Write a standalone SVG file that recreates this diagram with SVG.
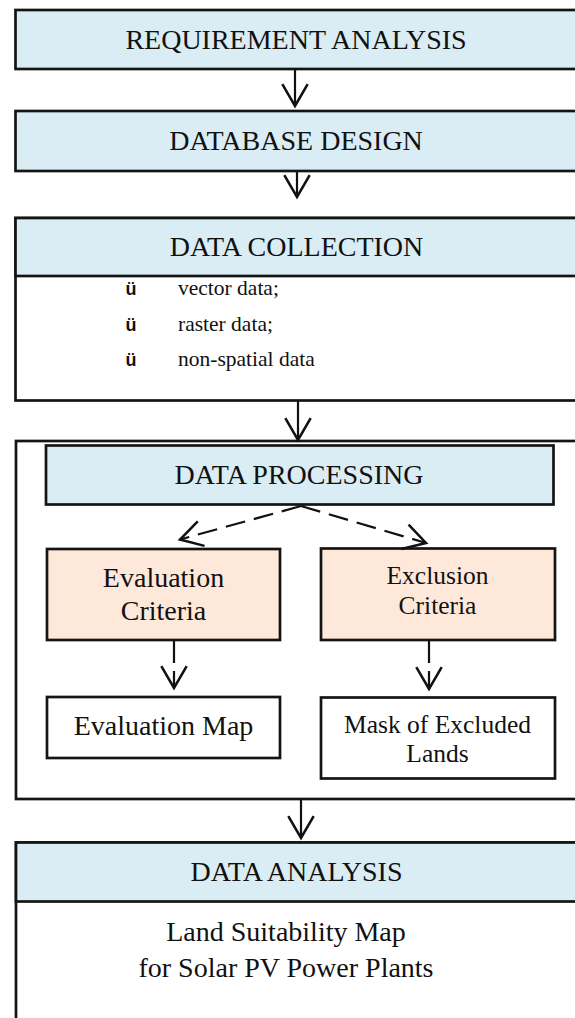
<svg xmlns="http://www.w3.org/2000/svg" width="575" height="1018" viewBox="0 0 575 1018">
<style>
.box{stroke:#141414;stroke-width:2.7}
.blue{fill:#DAEDF4}
.peach{fill:#FDE8DA}
.white{fill:#FFFFFF}
.t{font-family:"Liberation Serif","Times New Roman",serif;fill:#111;text-anchor:middle}
.t28{font-size:28px}
.t25{font-size:25.5px}
.li{font-family:"Liberation Serif","Times New Roman",serif;font-size:21.5px;fill:#111}
.bul{font-family:"Liberation Sans",Arial,sans-serif;font-weight:bold;font-size:18px;fill:#111}
.conn{stroke:#111;stroke-width:2.2;fill:none}
.dash{stroke-dasharray:20 9}
.vdash{stroke-dasharray:22 8}
</style>
<defs>
<marker id="v" markerUnits="userSpaceOnUse" markerWidth="30" markerHeight="30" viewBox="-22 -13 26 26" refX="0" refY="0" orient="auto">
<path d="M-19,-11 L0,0 L-19,11" fill="none" stroke="#111" stroke-width="2.2"/>
</marker>
</defs>
<rect width="575" height="1018" fill="#FFFFFF"/>

<g id="requirement-analysis">
<rect class="box blue" x="15.5" y="10" width="600" height="59"/>
<text class="t t28" x="296" y="48.5">REQUIREMENT ANALYSIS</text>
</g>

<g id="database-design">
<rect class="box blue" x="15.5" y="111" width="600" height="60"/>
<text class="t t28" x="296" y="150">DATABASE DESIGN</text>
</g>

<g id="data-collection">
<rect class="box white" x="15.5" y="218" width="600" height="182.5"/>
<rect class="box blue" x="15.5" y="218" width="600" height="58"/>
<text class="t t28" x="296.5" y="256">DATA COLLECTION</text>
<text class="bul" x="125.5" y="295">ü</text>
<text class="li" x="178" y="295">vector data;</text>
<text class="bul" x="125.5" y="330.5">ü</text>
<text class="li" x="178" y="330.5">raster data;</text>
<text class="bul" x="125.5" y="366">ü</text>
<text class="li" x="178" y="366">non-spatial data</text>
</g>

<g id="processing-frame">
<rect class="box" fill="none" x="16" y="441" width="600" height="358"/>
</g>

<g id="data-processing">
<rect class="box blue" x="46" y="445.5" width="507.5" height="59"/>
<text class="t t28" x="299" y="484">DATA PROCESSING</text>
</g>

<g id="evaluation-criteria">
<rect class="box peach" x="47" y="549" width="233" height="91"/>
<text class="t t28" x="163.5" y="586.5">Evaluation</text>
<text class="t t28" x="163.5" y="620">Criteria</text>
</g>

<g id="exclusion-criteria">
<rect class="box peach" x="321" y="548.5" width="234" height="91.5"/>
<text class="t t25" x="437.5" y="584">Exclusion</text>
<text class="t t25" x="437.5" y="614">Criteria</text>
</g>

<g id="evaluation-map">
<rect class="box white" x="47" y="697" width="233" height="61"/>
<text class="t t28" x="163.5" y="735">Evaluation Map</text>
</g>

<g id="mask-excluded">
<rect class="box white" x="321" y="697.5" width="234" height="81"/>
<text class="t t25" x="437.5" y="732.5">Mask of Excluded</text>
<text class="t t25" x="437.5" y="761.5">Lands</text>
</g>

<g id="data-analysis">
<rect class="box white" x="16" y="842.5" width="600" height="200"/>
<rect class="box blue" x="16" y="842.5" width="600" height="59"/>
<text class="t t28" x="296.5" y="880.5">DATA ANALYSIS</text>
<text class="t t28" x="286" y="941">Land Suitability Map</text>
<text class="t t28" x="286" y="977">for Solar PV Power Plants</text>
</g>

<g id="connectors">
<path class="conn" d="M295,69 L295,106" marker-end="url(#v)"/>
<path class="conn" d="M297,171 L297,197" marker-end="url(#v)"/>
<path class="conn" d="M298,400.5 L298,440" marker-end="url(#v)"/>
<path class="conn" d="M301,799 L301,838" marker-end="url(#v)"/>
<path class="conn dash" d="M301,506 L180,539.5" marker-end="url(#v)"/>
<path class="conn dash" d="M301,506 L426,543" marker-end="url(#v)"/>
<path class="conn vdash" d="M174,641 L174,688" marker-end="url(#v)"/>
<path class="conn vdash" d="M429,641 L429,689" marker-end="url(#v)"/>
</g>
</svg>
